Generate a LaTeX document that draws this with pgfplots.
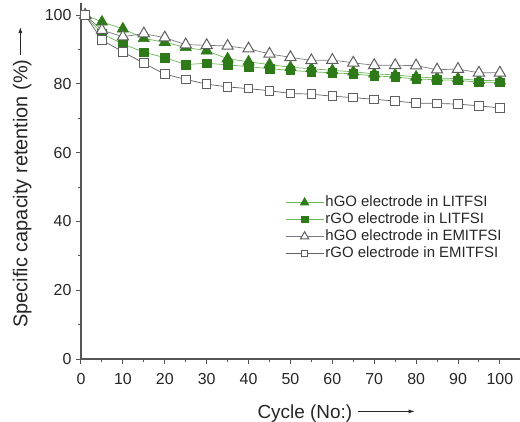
\documentclass[border=0pt]{standalone}
\usepackage{pgfplots}
\pgfplotsset{compat=1.18}
\usepackage{fontspec}
\setmainfont{Liberation Sans}
\usetikzlibrary{arrows.meta}

\definecolor{leafgreen}{RGB}{46,122,24}
\definecolor{lightgreen}{RGB}{110,185,85}
\definecolor{markgray}{RGB}{95,95,95}
\definecolor{linegray}{RGB}{120,120,130}
\definecolor{axisgray}{RGB}{85,85,85}

% capacity retention (%) versus cycle number
\pgfplotstableread{
cyc ret
1   100
5   98.0
10  96.0
15  93.2
20  92.1
25  90.6
30  89.6
35  87.3
40  86.4
45  85.6
50  84.8
55  84.4
60  83.9
65  83.5
70  82.9
75  82.6
80  82.0
85  81.7
90  81.5
95  81.0
100 80.9
}\hGOLi
\pgfplotstableread{
cyc ret
1   100
5   94.5
10  91.6
15  89.2
20  87.6
25  85.6
30  86.0
35  85.5
40  85.0
45  84.4
50  83.9
55  83.5
60  83.2
65  82.9
70  82.3
75  82.0
80  81.4
85  81.2
90  81.0
95  80.5
100 80.4
}\rGOLi
\pgfplotstableread{
cyc ret
1   100
5   95.6
10  93.7
15  94.6
20  93.4
25  91.4
30  91.2
35  91.0
40  90.2
45  88.7
50  87.7
55  86.8
60  86.9
65  86.1
70  85.4
75  85.4
80  85.3
85  84.1
90  84.3
95  83.2
100 83.2
}\hGOEmi
\pgfplotstableread{
cyc ret
1   100
5   92.7
10  89.3
15  86.0
20  82.8
25  81.3
30  79.9
35  79.1
40  78.6
45  78.0
50  77.2
55  77.0
60  76.4
65  76.0
70  75.5
75  75.0
80  74.4
85  74.3
90  74.1
95  73.6
100 73.0
}\rGOEmi

\begin{document}
\begin{tikzpicture}
\begin{axis}[
  scale only axis,
  width=439bp, height=356bp,
  xmin=0, xmax=104.8,
  ymin=0, ymax=103.5,
  axis lines=left,
  axis line style={-, axisgray, line width=1.2bp},
  xtick={0,10,...,100},
  minor xtick={5,15,...,95},
  ytick={0,20,...,100},
  minor ytick={10,30,...,90},
  tick align=outside,
  major tick length=5bp,
  minor tick length=3bp,
  tick style={axisgray, line width=1bp},
  tick label style={font=\fontsize{16}{18}\selectfont, text=black!85},
  /pgf/number format/assume math mode=true,
  xticklabel style={yshift=-6bp},
  yticklabel style={xshift=-1bp},
  xlabel={Cycle (No:)\rlap{\hspace{5bp}\tikz[baseline=-0.35em]\draw[-{Latex[length=6bp,width=4bp]}, line width=0.8bp] (0,0)--(57bp,0);}},
  ylabel={Specific capacity retention (\%)\rlap{\hspace{4bp}\tikz[baseline=-0.35em]\draw[-{Latex[length=6bp,width=4bp]}, line width=0.8bp] (0,0)--(28bp,0);}},
  every axis x label/.style={at={(axis description cs:0.510,-0.152)}, anchor=center,
    font=\fontsize{19}{22}\selectfont, text=black!85},
  every axis y label/.style={at={(axis description cs:-0.134,0.465)}, anchor=center, rotate=90,
    font=\fontsize{20}{23}\selectfont, text=black!85},
  legend image code/.code={
    \draw[mark repeat=2, mark phase=2, every mark/.append style={scale=0.75}, #1]
      plot coordinates {(0bp,0bp) (19bp,0bp) (38bp,0bp)};
  },
  legend style={
    draw=none, fill=none,
    at={(axis cs:48,48.6)}, anchor=north west,
    font=\fontsize{15}{17}\selectfont,
    nodes={inner sep=1.5bp, text height=11bp, text depth=3bp, text=black!85},
    row sep=0pt,
    /tikz/every even column/.append style={column sep=1bp},
  },
  legend cell align=left,
  clip=false,
]
\addplot[lightgreen, line width=0.7bp, mark=triangle*, mark size=6.5bp,
  mark options={solid, fill=leafgreen, draw=leafgreen, line width=0.6bp}]
  table[x=cyc, y=ret] {\hGOLi};
\addlegendentry{hGO electrode in LITFSI}
\addplot[lightgreen, line width=0.7bp, mark=square*, mark size=4.3bp,
  mark options={solid, fill=leafgreen, draw=leafgreen, line width=0.6bp}]
  table[x=cyc, y=ret] {\rGOLi};
\addlegendentry{rGO electrode in LITFSI}
\addplot[linegray, line width=0.7bp, mark=triangle*, mark size=6.5bp,
  mark options={solid, fill=white, draw=markgray, line width=1bp}]
  table[x=cyc, y=ret] {\hGOEmi};
\addlegendentry{hGO electrode in EMITFSI}
\addplot[markgray, line width=0.7bp, mark=square*, mark size=4.3bp,
  mark options={solid, fill=white, draw=markgray, line width=1bp}]
  table[x=cyc, y=ret] {\rGOEmi};
\addlegendentry{rGO electrode in EMITFSI}
\end{axis}
\pgfresetboundingbox
\path (current axis.origin) ++(-81bp,-63bp) rectangle ++(520bp,422bp);
\end{tikzpicture}
\end{document}
